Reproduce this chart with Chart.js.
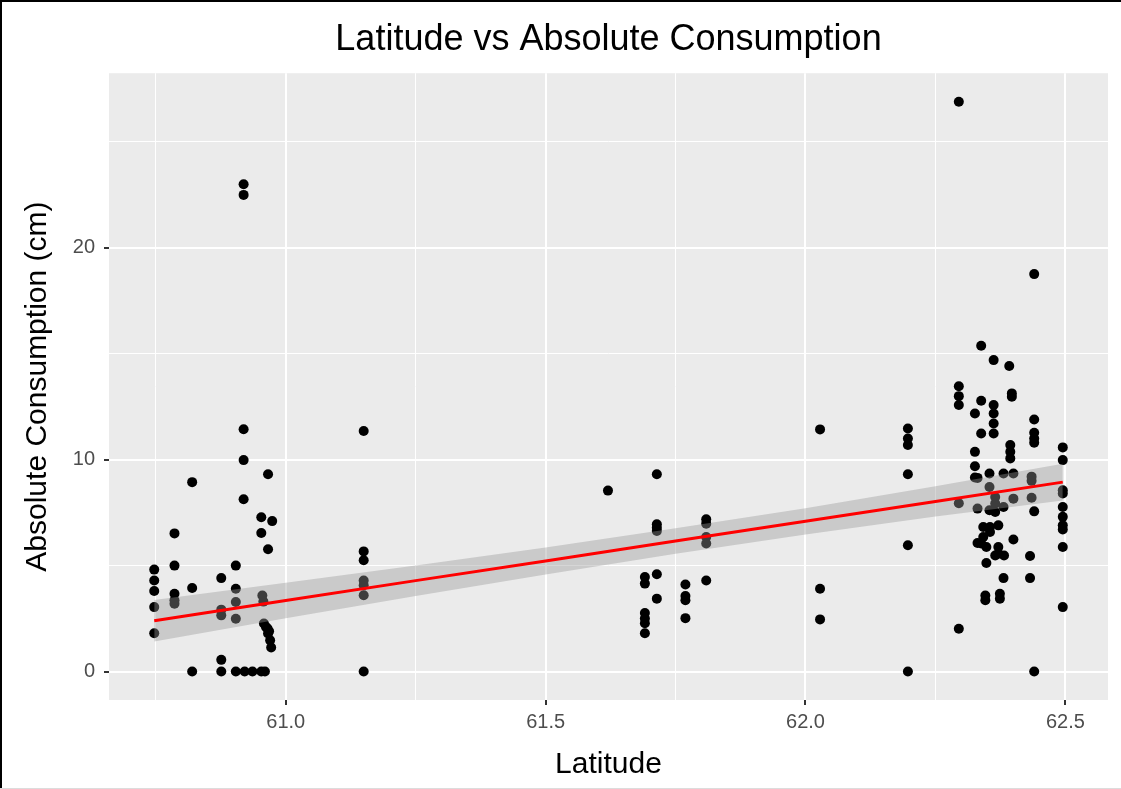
<!DOCTYPE html>
<html>
<head>
<meta charset="utf-8">
<script src="https://cdn.jsdelivr.net/npm/chart.js@4.4.1/dist/chart.umd.min.js"></script>
<style>
  html, body { margin: 0; padding: 0; background: #ffffff; }
  #wrap { width: 1121px; height: 789px; position: relative; }
  canvas { display: block; }
</style>
</head>
<body>
<div id="wrap"><canvas id="c" width="1121" height="789"></canvas></div>
<script>
// ---- Data ----
const chartTitle = "Latitude vs Absolute Consumption";
const xTitle = "Latitude";
const yTitle = "Absolute Consumption (cm)";

const xMajorTicks = [61.0, 61.5, 62.0, 62.5];
const xMinorTicks = [60.75, 61.25, 61.75, 62.25];
const yMajorTicks = [0, 10, 20];
const yMinorTicks = [5, 15, 25];

// observations: latitude and absolute consumption (cm)
const pointLat = [
  60.747,60.747,60.747,60.747,60.747,
  60.786,60.786,60.786,60.786,60.786,
  60.820,60.820,60.820,
  60.876,60.876,60.876,60.876,60.876,
  60.904,60.904,60.904,60.904,60.904,
  60.919,60.919,60.919,60.919,60.919,
  60.921,60.936,60.953,60.960,
  60.953,60.953,60.966,60.974,60.966,
  60.955,60.957,60.958,60.962,60.965,60.968,60.966,60.970,60.972,
  61.150,61.150,61.150,61.150,61.150,61.150,61.150,
  61.620,
  61.691,61.691,61.691,61.691,61.691,61.691,
  61.714,61.714,61.714,61.714,61.714,61.714,
  61.769,61.769,61.769,61.769,
  61.809,61.809,61.809,61.809,61.809,
  62.028,62.028,62.028,
  62.197,62.197,62.197,62.197,62.197,62.197,
  62.295,62.295,62.295,62.295,62.295,62.295,
  62.326,62.326,62.326,62.326,
  62.331,62.331,62.331,
  62.338,62.338,62.338,62.338,
  62.342,62.342,
  62.346,62.346,
  62.348,62.348,
  62.354,62.354,62.354,
  62.355,62.355,
  62.362,62.362,62.362,62.362,62.362,
  62.365,62.365,62.365,62.365,
  62.371,62.371,62.371,
  62.374,62.374,
  62.381,62.381,62.381,
  62.382,
  62.392,
  62.394,62.394,62.394,
  62.397,62.397,
  62.400,62.400,62.400,
  62.432,62.432,
  62.435,62.435,62.435,
  62.440,62.440,62.440,62.440,62.440,62.440,62.440,
  62.495,62.495,62.495,62.495,62.495,62.495,62.495,62.495,62.495,62.495
];
const pointCons = [
  4.81,4.30,3.80,3.04,1.81,
  6.52,5.00,3.67,3.36,3.20,
  8.94,3.94,0,
  4.41,2.92,2.65,0.55,0,
  5.00,3.91,3.28,2.49,0,
  23.0,22.5,11.44,9.98,8.13,
  0,0,0,0,
  7.28,6.54,9.31,7.10,5.77,
  3.59,3.30,2.27,2.10,2.03,1.90,1.80,1.47,1.13,
  11.35,5.67,5.25,4.30,4.07,3.60,0,
  8.54,
  4.46,4.15,2.76,2.50,2.28,1.81,
  9.31,6.95,6.79,6.63,4.59,3.44,
  4.11,3.56,3.36,2.52,
  7.19,6.98,6.35,6.04,4.30,
  11.43,3.91,2.46,
  11.47,11.00,10.69,9.31,5.96,0,
  26.9,13.47,13.00,12.58,7.94,2.02,
  12.18,10.37,9.69,9.16,
  9.14,7.69,6.07,
  15.38,12.78,11.24,6.04,
  6.82,6.35,
  3.59,3.36,
  5.88,5.12,
  9.35,8.71,7.61,
  6.82,6.59,
  14.70,12.58,12.18,11.71,11.24,
  8.24,7.93,7.53,5.48,
  6.90,5.88,5.56,
  3.67,3.44,
  9.35,7.77,4.41,
  5.48,
  14.42,
  10.69,10.37,10.06,
  13.13,12.97,
  9.35,8.16,6.23,
  5.45,4.41,
  9.20,9.00,8.20,
  18.76,11.90,11.27,11.00,10.80,7.56,0,
  10.58,9.98,8.56,8.40,7.77,7.30,6.90,6.70,5.88,3.04
];

// linear fit and its confidence band, read at a few latitudes
const smoothLat   = [60.747, 61.0, 61.25, 61.5, 61.75, 62.0, 62.25, 62.495];
const smoothFit   = [2.40, 3.35, 4.29, 5.22, 6.16, 7.09, 8.03, 8.94];
const smoothLower = [1.42, 2.51, 3.57, 4.58, 5.56, 6.47, 7.32, 8.07];
const smoothUpper = [3.38, 4.19, 5.01, 5.86, 6.76, 7.71, 8.74, 9.81];

// axis limits
const xMin = 60.660, xMax = 62.582;
const yMin = -1.345, yMax = 28.245;

// ---- helpers ----
const near = (a, b) => Math.abs(a - b) < 1e-6;
const isIn = (arr, v) => arr.some(t => near(t, v));
const xy = (xs, ys) => xs.map((x, i) => ({ x: x, y: ys[i] }));

const FONT = "'Liberation Sans', Arial, sans-serif";

const panelPlugin = {
  id: 'panel',
  beforeDraw(chart) {
    const { ctx, chartArea: a } = chart;
    ctx.save();
    ctx.fillStyle = '#ffffff';
    ctx.fillRect(0, 0, chart.width, chart.height);
    ctx.fillStyle = '#ebebeb';
    ctx.fillRect(a.left, a.top, a.right - a.left, a.bottom - a.top);
    ctx.restore();
  },
  afterDraw(chart) {
    const { ctx } = chart;
    ctx.save();
    ctx.fillStyle = '#000000';
    ctx.fillRect(0, 0, chart.width, 2);
    ctx.fillRect(0, 0, 2, chart.height);
    ctx.fillStyle = '#dcdcdc';
    ctx.fillRect(0, chart.height - 1, chart.width, 1);
    ctx.restore();
  }
};

const gridWidth = (majors) => (c) => (c.tick && isIn(majors, c.tick.value)) ? 2 : 1;
const tickCol = (majors) => (c) => (c.tick && isIn(majors, c.tick.value)) ? '#333333' : 'rgba(0,0,0,0)';

new Chart(document.getElementById('c'), {
  type: 'scatter',
  data: {
    datasets: [
      {
        label: 'points',
        data: xy(pointLat, pointCons),
        backgroundColor: '#000000',
        borderColor: '#000000',
        borderWidth: 0,
        pointRadius: 5,
        pointHoverRadius: 5,
        order: 3
      },
      {
        label: 'lower',
        type: 'line',
        data: xy(smoothLat, smoothLower),
        borderColor: 'rgba(0,0,0,0)',
        borderWidth: 0,
        pointRadius: 0,
        fill: false,
        order: 2
      },
      {
        label: 'upper',
        type: 'line',
        data: xy(smoothLat, smoothUpper),
        borderColor: 'rgba(0,0,0,0)',
        borderWidth: 0,
        pointRadius: 0,
        backgroundColor: 'rgba(153,153,153,0.4)',
        fill: '-1',
        order: 2
      },
      {
        label: 'fit',
        type: 'line',
        data: xy(smoothLat, smoothFit),
        borderColor: '#ff0000',
        borderWidth: 3,
        pointRadius: 0,
        fill: false,
        order: 1
      }
    ]
  },
  options: {
    responsive: false,
    animation: false,
    devicePixelRatio: 1,
    layout: { padding: { left: 0, right: 13, top: 0, bottom: 0 } },
    plugins: {
      legend: { display: false },
      tooltip: { enabled: false },
      title: {
        display: true,
        text: chartTitle,
        fullSize: false,
        color: '#000000',
        font: { family: FONT, size: 36, weight: 'normal' },
        padding: { top: 18, bottom: 12 }
      }
    },
    scales: {
      x: {
        type: 'linear',
        min: xMin, max: xMax,
        afterBuildTicks: (s) => { s.ticks = xMinorTicks.concat(xMajorTicks).sort((a,b)=>a-b).map(v => ({ value: v })); },
        afterFit: (s) => { s.height = 89; },
        ticks: {
          autoSkip: false, maxRotation: 0, minRotation: 0,
          color: '#4d4d4d',
          font: { family: FONT, size: 20 },
          padding: 5,
          callback: (v) => isIn(xMajorTicks, v) ? Number(v).toFixed(1) : ''
        },
        grid: {
          color: '#ffffff',
          lineWidth: gridWidth(xMajorTicks),
          tickLength: 5,
          tickColor: tickCol(xMajorTicks),
          tickWidth: 2
        },
        border: { display: false },
        title: {
          display: true, text: xTitle, color: '#000000',
          font: { family: FONT, size: 30 },
          padding: { top: 0, bottom: 6 }
        }
      },
      y: {
        type: 'linear',
        min: yMin, max: yMax,
        afterBuildTicks: (s) => { s.ticks = yMajorTicks.concat(yMinorTicks).sort((a,b)=>a-b).map(v => ({ value: v })); },
        afterFit: (s) => { s.width = 109; },
        ticks: {
          autoSkip: false,
          color: '#4d4d4d',
          font: { family: FONT, size: 20 },
          padding: 9,
          callback: (v) => isIn(yMajorTicks, v) ? String(v) : ''
        },
        grid: {
          color: '#ffffff',
          lineWidth: gridWidth(yMajorTicks),
          tickLength: 5,
          tickColor: tickCol(yMajorTicks),
          tickWidth: 2
        },
        border: { display: false },
        title: {
          display: true, text: yTitle, color: '#000000',
          font: { family: FONT, size: 30 },
          padding: { top: 20, bottom: 0 }
        }
      }
    }
  },
  plugins: [panelPlugin]
});
</script>
</body>
</html>
